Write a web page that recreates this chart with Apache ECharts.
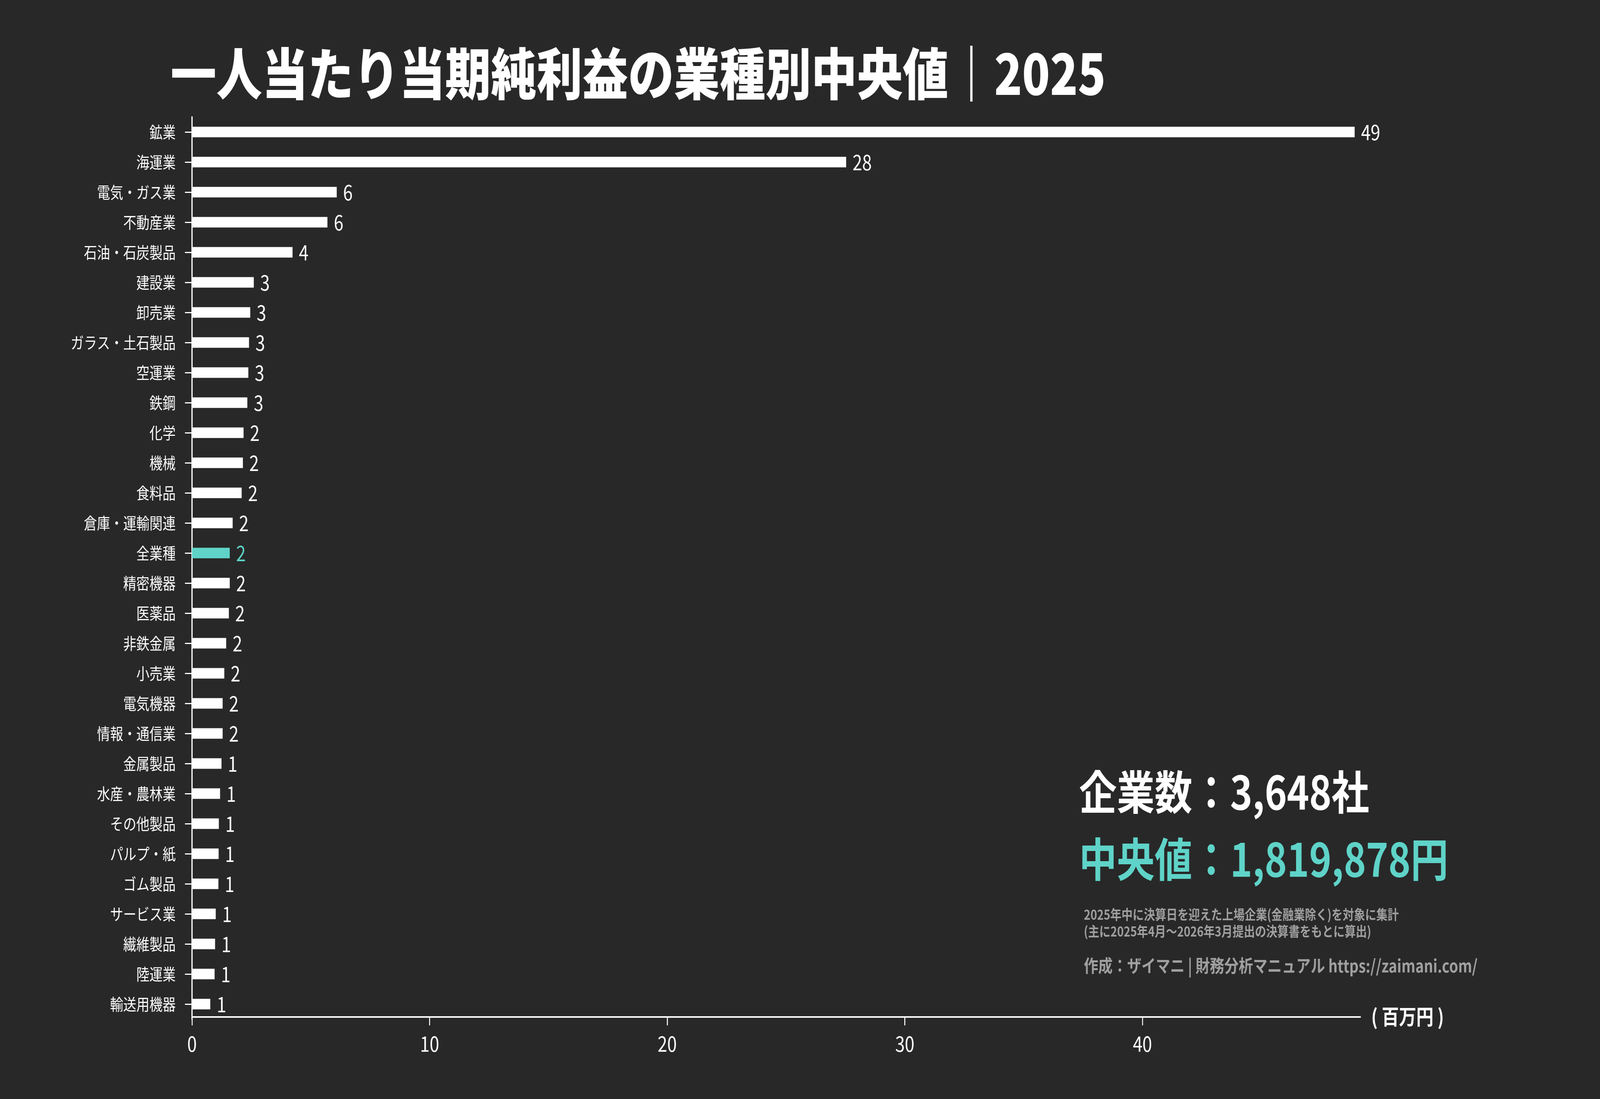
<!DOCTYPE html>
<html>
<head>
<meta charset="utf-8">
<script src="https://cdn.jsdelivr.net/npm/echarts@6/dist/echarts.min.js"></script>
<style>
  html, body { margin: 0; padding: 0; background: #282828; overflow: hidden; }
  #chart { width: 5000px; height: 2814px; transform-origin: 0 0; }
</style>
</head>
<body>
<div id="chart"></div>
<script>
// 業種名（上から順）
var industries = ['鉱業', '海運業', '電気・ガス業', '不動産業', '石油・石炭製品', '建設業', '卸売業',
    'ガラス・土石製品', '空運業', '鉄鋼', '化学', '機械', '食料品', '倉庫・運輸関連', '全業種',
    '精密機器', '医薬品', '非鉄金属', '小売業', '電気機器', '情報・通信業', '金属製品', '水産・農林業',
    'その他製品', 'パルプ・紙', 'ゴム製品', 'サービス業', '繊維製品', '陸運業', '輸送用機器'];
// 一人当たり当期純利益の中央値（百万円）
var values = [48.93, 27.53, 6.09, 5.70, 4.23, 2.60, 2.45, 2.40, 2.37, 2.33, 2.17, 2.14, 2.09, 1.71, 1.59,
    1.59, 1.55, 1.44, 1.36, 1.29, 1.29, 1.24, 1.18, 1.13, 1.12, 1.11, 1.00, 0.97, 0.95, 0.77];
// バー右の表示値
var valueLabels = [49, 28, 6, 6, 4, 3, 3, 3, 3, 3, 2, 2, 2, 2, 2,
    2, 2, 2, 2, 2, 2, 1, 1, 1, 1, 1, 1, 1, 1, 1];
var xTicks = [0, 10, 20, 30, 40];
var highlight = '全業種';

var companyCount = '3,648';
var medianYen = '1,819,878';

var FONT = '"Noto Sans CJK JP", "Noto Sans", sans-serif';
var WHITE = '#ffffff';
var TEAL = '#5fd3c8';
var GRAY = '#a0a0a0';

// 5000x2814 で描いてウィンドウに合わせる
var box = document.getElementById('chart');
box.style.transform = 'scale(' + (window.innerWidth / 5000) + ',' + (window.innerHeight / 2814) + ')';

var chart = echarts.init(box, null, { renderer: 'canvas', width: 5000, height: 2814 });

var barData = industries.map(function (name, i) {
    var isAll = name === highlight;
    return {
        value: values[i],
        itemStyle: { color: isAll ? TEAL : WHITE },
        label: { color: isAll ? TEAL : WHITE }
    };
});

var option = {
    backgroundColor: '#282828',
    animation: false,
    grid: { left: 600, right: 749, top: 299.5, height: 2310 },
    xAxis: {
        type: 'value',
        min: 0,
        max: 49.17,
        offset: -6,
        name: '( 百万円 )',
        nameLocation: 'end',
        nameGap: 34,
        nameTextStyle: { color: WHITE, fontSize: 54, fontWeight: 'bold', fontFamily: FONT },
        splitLine: { show: false },
        axisLine: { show: true, lineStyle: { color: WHITE, width: 4 } },
        axisTick: { show: true, length: 22, lineStyle: { color: WHITE, width: 3 }, customValues: xTicks },
        axisLabel: { color: WHITE, fontSize: 54, fontFamily: FONT, margin: 42, customValues: xTicks }
    },
    yAxis: {
        type: 'category',
        inverse: true,
        data: industries,
        axisLine: { show: true, lineStyle: { color: WHITE, width: 4 } },
        axisTick: { show: true, alignWithLabel: true, length: 22, lineStyle: { color: WHITE, width: 3 } },
        axisLabel: { color: WHITE, fontSize: 41, fontFamily: FONT, margin: 51 },
        splitLine: { show: false }
    },
    series: [{
        type: 'bar',
        data: barData,
        barWidth: 27,
        label: {
            show: true,
            position: 'right',
            distance: 20,
            fontSize: 54,
            fontFamily: FONT,
            formatter: function (p) { return valueLabels[p.dataIndex]; }
        }
    }],
    graphic: [
        {
            type: 'text', x: 533, y: 189,
            style: {
                text: '一人当たり当期純利益の業種別中央値｜2025',
                fill: WHITE, fontSize: 143, fontWeight: 900, fontFamily: FONT,
                align: 'left', verticalAlign: 'middle'
            }
        },
        {
            type: 'text', x: 3372, y: 2028,
            style: {
                text: '企業数：' + companyCount + '社',
                fill: WHITE, fontSize: 118, fontWeight: 'bold', fontFamily: FONT,
                align: 'left', verticalAlign: 'middle'
            }
        },
        {
            type: 'text', x: 3372, y: 2200,
            style: {
                text: '中央値：' + medianYen + '円',
                fill: TEAL, fontSize: 118, fontWeight: 'bold', fontFamily: FONT,
                align: 'left', verticalAlign: 'middle'
            }
        },
        {
            type: 'text', x: 3387, y: 2342,
            style: {
                text: '2025年中に決算日を迎えた上場企業(金融業除く)を対象に集計',
                fill: GRAY, fontSize: 35, fontWeight: 'bold', fontFamily: FONT,
                align: 'left', verticalAlign: 'middle'
            }
        },
        {
            type: 'text', x: 3387, y: 2385,
            style: {
                text: '(主に2025年4月～2026年3月提出の決算書をもとに算出)',
                fill: GRAY, fontSize: 35, fontWeight: 'bold', fontFamily: FONT,
                align: 'left', verticalAlign: 'middle'
            }
        },
        {
            type: 'text', x: 3387, y: 2473,
            style: {
                text: '作成：ザイマニ | 財務分析マニュアル https://zaimani.com/',
                fill: GRAY, fontSize: 45, fontWeight: 'bold', fontFamily: FONT,
                align: 'left', verticalAlign: 'middle'
            }
        }
    ]
};

chart.setOption(option);
</script>
</body>
</html>
